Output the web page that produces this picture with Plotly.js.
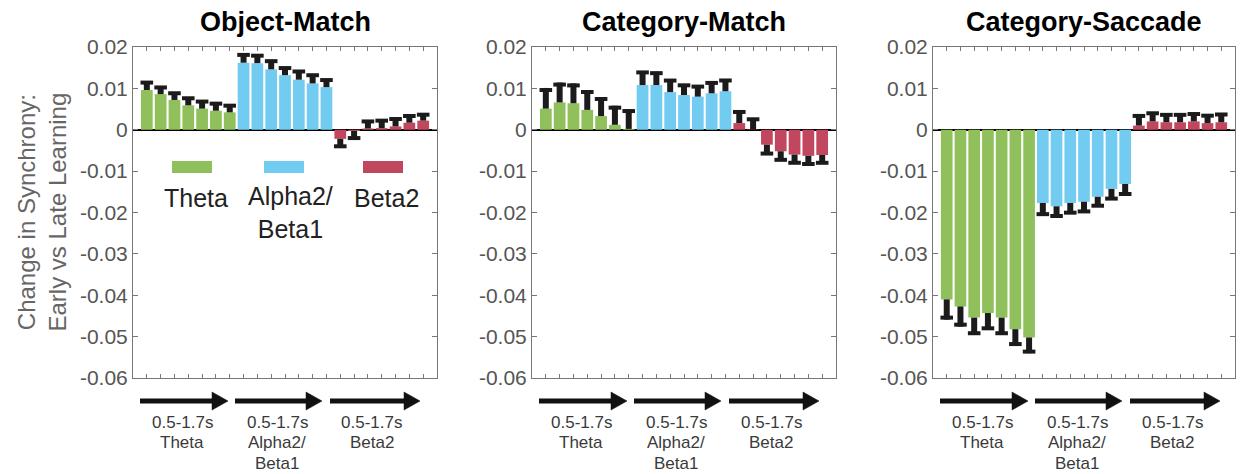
<!DOCTYPE html>
<html><head><meta charset="utf-8">
<script src="https://cdn.plot.ly/plotly-3.0.1.min.js"></script>
<style>body{margin:0;background:#fff;} #chart{width:1241px;height:474px;}</style>
</head><body><div id="chart"></div>
<script>
// ---------- data ----------
const panelTitles = ["Object-Match", "Category-Match", "Category-Saccade"];
const bandNames = ["Theta", "Alpha2/<br>Beta1", "Beta2"];
const bandLabels = [["0.5-1.7s", "Theta"], ["0.5-1.7s", "Alpha2/", "Beta1"], ["0.5-1.7s", "Beta2"]];
const yTickVals = [0.02, 0.01, 0, -0.01, -0.02, -0.03, -0.04, -0.05, -0.06];
const yTickText = ["0.02", "0.01", "0", "-0.01", "-0.02", "-0.03", "-0.04", "-0.05", "-0.06"];
const yTitle = "Change in Synchrony:<br>Early vs Late Learning";

// Object-Match
const omTheta    = [0.0096, 0.0086, 0.0072, 0.0059, 0.0051, 0.0046, 0.0042];
const omThetaErr = [0.0020, 0.0018, 0.0018, 0.0019, 0.0019, 0.0019, 0.0018];
const omAlpha    = [0.0162, 0.0161, 0.0146, 0.0132, 0.0121, 0.0112, 0.0103];
const omAlphaErr = [0.0021, 0.0020, 0.0022, 0.0019, 0.0022, 0.0022, 0.0019];
const omBeta     = [-0.0022, -0.0003, 0.0003, 0.0004, 0.0008, 0.0017, 0.0022];
const omBetaErr  = [0.0020, 0.0019, 0.0019, 0.0020, 0.0020, 0.0018, 0.0016];
// Category-Match
const cmTheta    = [0.0051, 0.0066, 0.0064, 0.0048, 0.0033, 0.0012, 0.0002];
const cmThetaErr = [0.0050, 0.0048, 0.0048, 0.0048, 0.0046, 0.0046, 0.0048];
const cmAlpha    = [0.0108, 0.0108, 0.0091, 0.0084, 0.0080, 0.0088, 0.0093];
const cmAlphaErr = [0.0034, 0.0032, 0.0031, 0.0026, 0.0027, 0.0028, 0.0029];
const cmBeta     = [0.0016, 0.0001, -0.0036, -0.0052, -0.0060, -0.0063, -0.0061];
const cmBetaErr  = [0.0030, 0.0027, 0.0024, 0.0023, 0.0022, 0.0022, 0.0021];
// Category-Saccade
const csTheta    = [-0.0410, -0.0427, -0.0454, -0.0443, -0.0454, -0.0482, -0.0502];
const csThetaErr = [0.0049, 0.0049, 0.0042, 0.0041, 0.0042, 0.0040, 0.0038];
const csAlpha    = [-0.0177, -0.0185, -0.0177, -0.0174, -0.0162, -0.0143, -0.0131];
const csAlphaErr = [0.0030, 0.0026, 0.0026, 0.0026, 0.0024, 0.0026, 0.0027];
const csBeta     = [0.0010, 0.0020, 0.0018, 0.0018, 0.0020, 0.0016, 0.0018];
const csBetaErr  = [0.0026, 0.0022, 0.0020, 0.0020, 0.0020, 0.0020, 0.0021];

// ---------- styling / layout ----------
const W = 1241, H = 474;
const colors = ["#8fc05b", "#72cbf1", "#c1475f"];
const FONT = "Liberation Sans, Arial, Helvetica, sans-serif";
const panelLeft = [133, 532, 933];
const panelRight = [437, 836, 1235];
const plotTop = 47, plotBottom = 378;
const px = x => x / W;
const py = y => 1 - y / H;

const panels = [
  [[omTheta, omThetaErr], [omAlpha, omAlphaErr], [omBeta, omBetaErr]],
  [[cmTheta, cmThetaErr], [cmAlpha, cmAlphaErr], [cmBeta, cmBetaErr]],
  [[csTheta, csThetaErr], [csAlpha, csAlphaErr], [csBeta, csBetaErr]]
];

const traces = [];
const capTraces = [];
panels.forEach((bands, p) => {
  bands.forEach(([vals, errs], b) => {
    const n = vals.length;
    const xs = vals.map((v, i) => b * n + i);
    const xa = "x" + (p === 0 ? "" : p + 1);
    const ya = "y" + (p === 0 ? "" : p + 1);
    traces.push({
      type: "bar", x: xs, y: vals, xaxis: xa, yaxis: ya,
      marker: {color: colors[b], line: {width: 0}},
      error_y: {
        type: "data", symmetric: false,
        array: vals.map((v, i) => v >= 0 ? errs[i] : 0),
        arrayminus: vals.map((v, i) => v < 0 ? errs[i] : 0),
        color: "#1b1b1b", thickness: 6, width: 0
      },
      hoverinfo: "y", showlegend: false
    });
    // small caps at the tips of the error bars
    capTraces.push({
      type: "scatter", mode: "markers", x: xs,
      y: vals.map((v, i) => v >= 0 ? v + errs[i] * 0.9 : v - errs[i] * 0.9),
      xaxis: xa, yaxis: ya,
      marker: {symbol: "line-ew", size: 9, line: {color: "#1b1b1b", width: 4}},
      hoverinfo: "skip", showlegend: false
    });
  });
});

const layout = {
  width: W, height: H,
  margin: {l: 0, r: 0, t: 0, b: 0},
  paper_bgcolor: "#fff", plot_bgcolor: "#fff",
  barmode: "overlay", bargap: 0.15,
  showlegend: false,
  font: {family: FONT, color: "#555"},
  shapes: [], annotations: []
};

const nTot = 21;
for (let p = 0; p < 3; p++) {
  const sfx = p === 0 ? "" : String(p + 1);
  layout["xaxis" + sfx] = {
    domain: [px(panelLeft[p]), px(panelRight[p])],
    anchor: "y" + sfx,
    range: [-1, nTot],
    tickvals: Array.from({length: nTot}, (_, i) => i),
    ticks: "inside", ticklen: 4, tickwidth: 1, tickcolor: "#777",
    showticklabels: false,
    showline: true, linecolor: "#777", linewidth: 1, mirror: "ticks",
    showgrid: false, zeroline: false, fixedrange: true
  };
  layout["yaxis" + sfx] = {
    domain: [py(plotBottom), py(plotTop)],
    anchor: "x" + sfx,
    range: [-0.06, 0.02],
    tickvals: yTickVals, ticktext: yTickText,
    ticks: "inside", ticklen: 5, tickwidth: 1, tickcolor: "#777",
    tickfont: {family: FONT, size: 21, color: "#555"},
    showline: true, linecolor: "#777", linewidth: 1, mirror: "ticks",
    showgrid: false,
    zeroline: true, zerolinecolor: "#000", zerolinewidth: 1.5,
    fixedrange: true
  };
  // panel title
  layout.annotations.push({
    xref: "paper", yref: "paper",
    x: px((panelLeft[p] + panelRight[p]) / 2), y: py(22),
    xanchor: "center", yanchor: "middle", showarrow: false,
    text: "<b>" + panelTitles[p] + "</b>",
    font: {family: FONT, size: 27, color: "#000"}
  });
  // arrows with band labels
  const arrows = [[7, 95], [102, 189], [197, 287]];
  arrows.forEach(([s, e], b) => {
    const x0 = panelLeft[p] + s, x1 = panelLeft[p] + e, ya = 401;
    layout.shapes.push({
      type: "line", xref: "paper", yref: "paper",
      x0: px(x0), x1: px(x1 - 12), y0: py(ya), y1: py(ya),
      line: {color: "#111", width: 5}
    });
    layout.shapes.push({
      type: "path", xref: "paper", yref: "paper",
      path: `M ${px(x1 - 16)} ${py(ya - 9)} L ${px(x1)} ${py(ya)} L ${px(x1 - 16)} ${py(ya + 9)} Z`,
      fillcolor: "#111", line: {color: "#111", width: 0.5}
    });
    bandLabels[b].forEach((line, k) => {
      layout.annotations.push({
        xref: "paper", yref: "paper",
        x: px(x0 + 42), y: py(422 + k * 20.5),
        xanchor: "center", yanchor: "middle", showarrow: false,
        text: line,
        font: {family: FONT, size: 17, color: "#3a3a3a"}
      });
    });
  });
}

// y-axis title
layout.annotations.push({
  xref: "paper", yref: "paper",
  x: px(41), y: py((plotTop + plotBottom) / 2),
  xanchor: "center", yanchor: "middle", showarrow: false,
  textangle: -90, text: yTitle, align: "center",
  font: {family: FONT, size: 24, color: "#666"}
});

// legend inside first panel
const legRects = [[172, 212], [264, 304], [363, 403]];
const legText = [[196, 198], [290, 213], [386, 198]];
legRects.forEach(([a, b], i) => {
  layout.shapes.push({
    type: "rect", xref: "paper", yref: "paper",
    x0: px(a), x1: px(b), y0: py(173), y1: py(161),
    fillcolor: colors[i], line: {width: 0}
  });
  layout.annotations.push({
    xref: "paper", yref: "paper",
    x: px(legText[i][0]), y: py(legText[i][1]),
    xanchor: "center", yanchor: "middle", showarrow: false,
    text: bandNames[i], align: "center",
    font: {family: FONT, size: 25, color: "#222"}
  });
});

Plotly.newPlot("chart", traces.concat(capTraces), layout, {staticPlot: true, displayModeBar: false});
</script>
</body></html>
